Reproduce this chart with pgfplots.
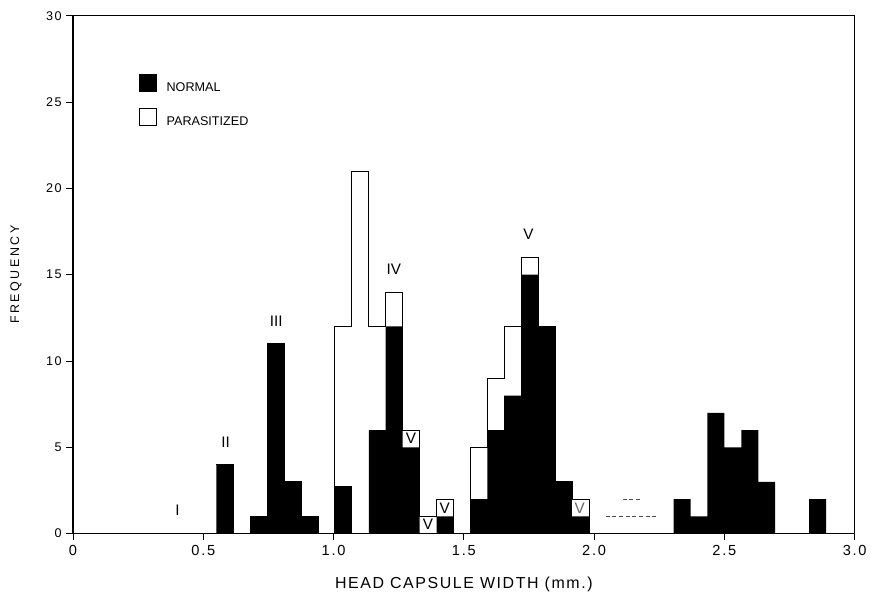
\documentclass[border=0pt]{standalone}
\usepackage{fontspec}
\setmainfont{Liberation Sans}
\newfontfamily\lblfont[LetterSpace=10]{Liberation Sans}
\newfontfamily\ylblfont[LetterSpace=20]{Liberation Sans}
\newfontfamily\tickfont[LetterSpace=12]{Liberation Sans}
\usepackage{pgfplots}
\usepackage{pgfplotstable}
\pgfplotsset{compat=1.18}

% bins are 0.065 mm wide, x = left edge of the bin
\pgfplotstableread{
x     normal
0.550 4
0.615 0
0.680 1
0.745 11
0.810 3
0.875 1
0.940 0
1.005 2.75
1.070 0
1.135 6
1.200 12
1.265 5
1.330 0
1.395 1
1.460 0
1.525 2
1.590 6
1.655 8
1.720 15
1.785 12
1.850 3
1.915 1
1.980 0
2.045 0
2.110 0
2.175 0
2.240 0
2.305 2
2.370 1
2.435 7
2.500 5
2.565 6
2.630 3
2.695 0
2.760 0
2.825 2
2.890 0
}\normaltab

% normal + parasitized
\pgfplotstableread{
x     total
0.550 4
0.615 0
0.680 1
0.745 11
0.810 3
0.875 1
0.940 0
1.005 12
1.070 21
1.135 12
1.200 14
1.265 6
1.330 1
1.395 2
1.460 0
1.525 5
1.590 9
1.655 12
1.720 16
1.785 12
1.850 3
1.915 2
1.980 0
}\totaltab

\begin{document}
\begin{tikzpicture}
\begin{axis}[
  scale only axis, width=588.5pt, height=390pt,
  xmin=0, xmax=3, ymin=0, ymax=30,
  axis line style={line width=0.9pt},
  xtick={0,0.5,1,1.5,2,2.5,3},
  xticklabels={0,0.5,1.0,1.5,2.0,2.5,3.0},
  ytick={0,5,10,15,20,25,30},
  xtick pos=bottom, ytick pos=left,
  tick align=outside, major tick length=5pt,
  tick style={line width=0.7pt, black},
  /pgf/number format/assume math mode=true,
  xticklabel style={font=\tickfont\fontsize{11}{13}\selectfont},
  yticklabel style={font=\tickfont\fontsize{9.5}{11}\selectfont},
  xlabel={HEAD CAPSULE WIDTH (mm.)},
  ylabel={FREQUENCY},
  every axis x label/.style={at={(rel axis cs:0.5,0)}, anchor=base, yshift=-41.5pt,
    font=\lblfont\fontsize{12}{14}\selectfont},
  every axis y label/.style={at={(rel axis cs:0,0.5)}, rotate=90, anchor=center, yshift=43pt,
    font=\ylblfont\fontsize{9.4}{11}\selectfont},
  legend style={at={(rel axis cs:0.0841,0.888)}, anchor=north west, draw=none, fill=none,
    inner sep=0pt, row sep=12.5pt, font=\fontsize{9.5}{11}\selectfont,
    nodes={inner sep=0pt, text depth=0pt},
    /tikz/every odd column/.append style={column sep=7.5pt}},
  legend cell align=left,
  legend image code/.code={\draw[#1, line width=0.5pt] (0pt,-3pt) rectangle (12.75pt,9.75pt);},
]
\addplot[const plot mark left, fill=black, draw=none, forget plot]
  table[x=x, y=normal] {\normaltab} \closedcycle;
\addplot[const plot mark left, draw=black, line width=0.6pt, forget plot]
  table[x=x, y=total] {\totaltab};
% faint parasitized tops near 2.0-2.2
\addplot[densely dashed, black!70, line width=0.5pt, forget plot] coordinates {(2.045,1)(2.24,1)};
\addplot[densely dashed, black!70, line width=0.5pt, forget plot] coordinates {(2.11,2)(2.175,2)};

\addlegendimage{fill=black, draw=black}
\addlegendentry{NORMAL}
\addlegendimage{fill=white, draw=black}
\addlegendentry{PARASITIZED}

% instar labels
\begin{scope}[every node/.style={font=\fontsize{11.5}{13}\selectfont, inner sep=0pt}]
\node at (axis cs:0.401,1.38) {I};
\node at (axis cs:0.586,5.31) {II};
\node at (axis cs:0.780,12.3) {III};
\node at (axis cs:1.231,15.31) {IV};
\node at (axis cs:1.748,17.33) {V};
\node at (axis cs:1.297,5.5) {V};
\node at (axis cs:1.362,0.55) {V};
\node at (axis cs:1.427,1.5) {V};
\node[text=black!60] at (axis cs:1.945,1.45) {V};
\end{scope}
\end{axis}
\path (current axis.south west) ++(-55pt,-43.5pt);
\path (current axis.north east) ++(9.75pt,11.8pt);
\end{tikzpicture}
\end{document}
